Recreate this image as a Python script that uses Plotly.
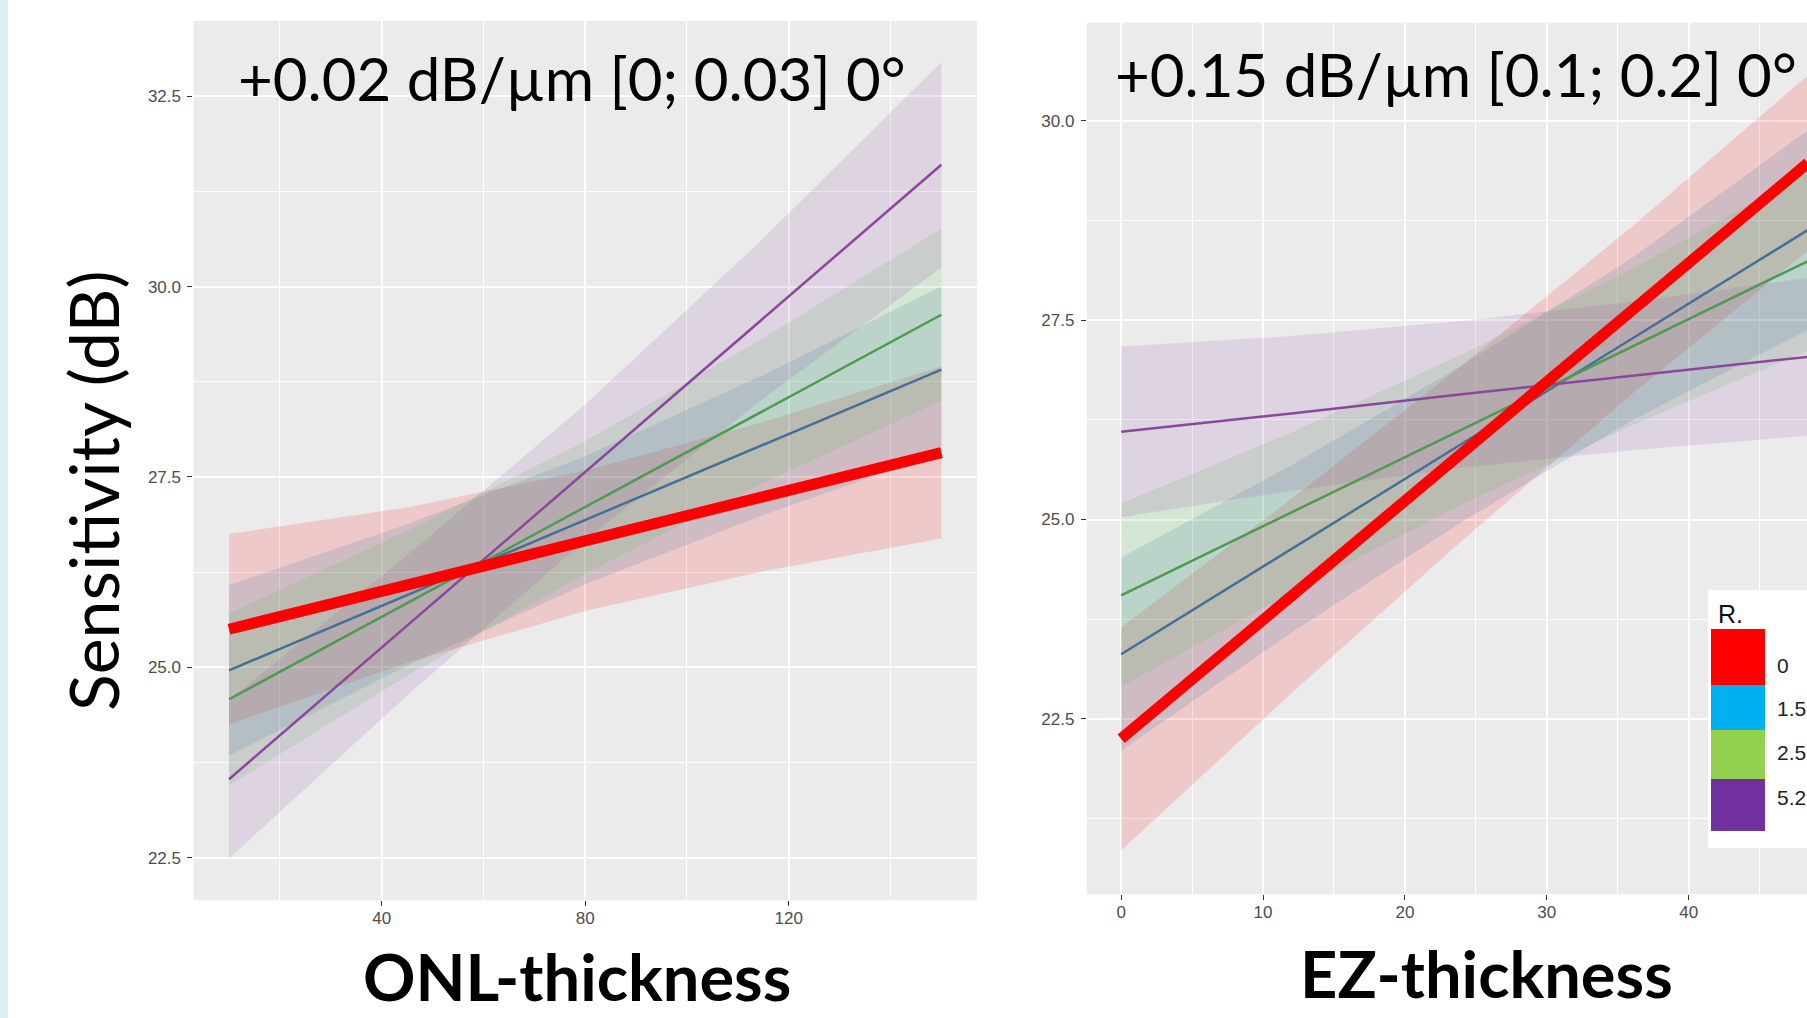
import plotly.graph_objects as go

W, H = 1807, 1018

# ---------------- data ----------------
groups = ["0", "1.5", "2.5", "5.2"]

# ONL-thickness panel
onl_x = [10, 45, 80, 115, 150]
onl_fit_0 = [25.50, 26.08, 26.66, 27.24, 27.82]
onl_lo_0 = [24.25, 25.06, 25.74, 26.26, 26.69]
onl_hi_0 = [26.75, 27.10, 27.58, 28.22, 28.95]
onl_fit_15 = [24.96, 25.95, 26.93, 27.92, 28.91]
onl_lo_15 = [23.84, 25.02, 26.09, 27.00, 27.82]
onl_hi_15 = [26.08, 26.88, 27.77, 28.84, 30.00]
onl_fit_25 = [24.58, 25.84, 27.10, 28.37, 29.63]
onl_lo_25 = [23.45, 24.89, 26.23, 27.42, 28.50]
onl_hi_25 = [25.71, 26.79, 27.97, 29.32, 30.76]
onl_fit_52 = [23.53, 25.55, 27.56, 29.58, 31.60]
onl_lo_52 = [22.49, 24.63, 26.67, 28.53, 30.25]
onl_hi_52 = [24.57, 26.47, 28.45, 30.63, 32.95]

# EZ-thickness panel
ez_x = [0, 12, 24, 36, 48.4]
ez_fit_0 = [22.25, 24.04, 25.83, 27.62, 29.47]
ez_lo_0 = [20.85, 22.82, 24.73, 26.57, 28.37]
ez_hi_0 = [23.65, 25.26, 26.93, 28.67, 30.57]
ez_fit_15 = [23.31, 24.63, 25.95, 27.26, 28.63]
ez_lo_15 = [22.10, 23.58, 24.97, 26.24, 27.38]
ez_hi_15 = [24.52, 25.68, 26.93, 28.28, 29.88]
ez_fit_25 = [24.05, 25.09, 26.13, 27.16, 28.24]
ez_lo_25 = [22.90, 24.09, 25.19, 26.18, 27.12]
ez_hi_25 = [25.20, 26.09, 27.07, 28.14, 29.36]
ez_fit_52 = [26.10, 26.33, 26.57, 26.80, 27.04]
ez_lo_52 = [25.03, 25.36, 25.65, 25.87, 26.05]
ez_hi_52 = [27.17, 27.30, 27.49, 27.73, 28.03]

onl_xticks = [40, 80, 120]
onl_xminor = [20, 60, 100, 140]
onl_yticks = [22.5, 25.0, 27.5, 30.0, 32.5]
onl_yminor = [23.75, 26.25, 28.75, 31.25]
ez_xticks = [0, 10, 20, 30, 40]
ez_xminor = [5, 15, 25, 35, 45]
ez_yticks = [22.5, 25.0, 27.5, 30.0]
ez_yminor = [21.25, 23.75, 26.25, 28.75]

title_left = "+0.02 dB/µm [0; 0.03] 0°"
title_right = "+0.15 dB/µm [0.1; 0.2] 0°"
xlab_left = "ONL-thickness"
xlab_right = "EZ-thickness"
ylab = "Sensitivity (dB)"
legend_title = "R."

# ---------------- styles ----------------
key_colors = ["#FF0000", "#00B0F0", "#92D050", "#7030A0"]
fill_colors = ["rgba(255,0,0,0.14)", "rgba(40,110,170,0.15)",
               "rgba(75,195,75,0.15)", "rgba(150,75,165,0.15)"]
line_colors = ["#FF0000", "#456F98", "#4E9A50", "#8B479C"]
line_widths = [11, 2.5, 2.5, 2.5]

fig = go.Figure()

panels = [
    ("x", "y", onl_x,
     [onl_fit_0, onl_fit_15, onl_fit_25, onl_fit_52],
     [onl_lo_0, onl_lo_15, onl_lo_25, onl_lo_52],
     [onl_hi_0, onl_hi_15, onl_hi_25, onl_hi_52]),
    ("x2", "y2", ez_x,
     [ez_fit_0, ez_fit_15, ez_fit_25, ez_fit_52],
     [ez_lo_0, ez_lo_15, ez_lo_25, ez_lo_52],
     [ez_hi_0, ez_hi_15, ez_hi_25, ez_hi_52]),
]

for xa, ya, xs, fits, los, his in panels:
    for i, g in enumerate(groups):
        fig.add_trace(go.Scatter(
            x=list(xs) + list(xs)[::-1], y=list(his[i]) + list(los[i])[::-1],
            xaxis=xa, yaxis=ya, mode="lines", fill="toself",
            fillcolor=fill_colors[i], line=dict(width=0),
            hoverinfo="skip", showlegend=False))
    for i in [1, 2, 3, 0]:
        fig.add_trace(go.Scatter(
            x=xs, y=fits[i], xaxis=xa, yaxis=ya, mode="lines",
            line=dict(color=line_colors[i], width=line_widths[i]),
            name=groups[i], showlegend=False))

tickfont = dict(family="Liberation Sans, Arial", size=17, color="#4D4D4D")

def ax(rng, domain, ticks, minor, fmt=None, anchor=None, standoff=3):
    d = dict(range=rng, domain=domain, tickmode="array", tickvals=ticks,
             ticks="outside", ticklen=5, tickwidth=1.3, tickcolor="#333333",
             showgrid=True, gridcolor="white", gridwidth=2,
             zeroline=False, showline=False, tickfont=tickfont,
             ticklabelstandoff=standoff,
             minor=dict(tickmode="array", tickvals=minor, showgrid=True,
                        gridcolor="white", gridwidth=1, ticks=""),
             fixedrange=True)
    if fmt:
        d["ticktext"] = [fmt.format(t) for t in ticks]
    if anchor:
        d["anchor"] = anchor
    return d

px = lambda v: v / W
py = lambda v: (H - v) / H

fig.update_layout(
    width=W, height=H, margin=dict(l=0, r=0, t=0, b=0),
    paper_bgcolor="white", plot_bgcolor="#EBEBEB",
    xaxis=ax([3, 157], [px(193.4), px(977)], onl_xticks, onl_xminor, anchor="y", standoff=-3),
    yaxis=ax([21.94, 33.49], [py(900.3), py(20.8)], onl_yticks, onl_yminor, "{:.1f}", anchor="x"),
    xaxis2=ax([-2.42, 48.34], [px(1086.8), 1.0], ez_xticks, ez_xminor, anchor="y2", standoff=-3),
    yaxis2=ax([20.30, 31.23], [py(894.3), py(22.7)], ez_yticks, ez_yminor, "{:.1f}", anchor="x2"),
    showlegend=False,
)

shapes = [
    dict(type="rect", xref="paper", yref="paper", x0=0, x1=px(8), y0=0, y1=1,
         fillcolor="rgb(218,238,244)", line=dict(width=0), layer="below"),
    dict(type="rect", xref="paper", yref="paper", x0=px(1708), x1=1.02,
         y0=py(848), y1=py(590), fillcolor="white", line=dict(width=0), layer="above"),
]
key_y = [(629, 685), (685, 730), (730, 779), (779, 831)]
for i, (a, b) in enumerate(key_y):
    shapes.append(dict(type="rect", xref="paper", yref="paper",
                       x0=px(1711), x1=px(1765), y0=py(b), y1=py(a),
                       fillcolor=key_colors[i], line=dict(width=0), layer="above"))
fig.update_layout(shapes=shapes)

big = dict(family="Lato, Open Sans, sans-serif", size=60, color="black")
lab = dict(family="Lato, Open Sans, sans-serif", size=65, color="black")
ann = [
    dict(text=title_left, x=px(571.5), y=py(78), font=big),
    dict(text=title_right, x=px(1456), y=py(74), font=big),
    dict(text="<b>" + xlab_left + "</b>", x=px(577), y=py(976), font=lab),
    dict(text="<b>" + xlab_right + "</b>", x=px(1486), y=py(973), font=lab),
    dict(text=ylab, x=px(92), y=py(491), textangle=-90,
         font=dict(family="Lato, Open Sans, sans-serif", size=68, color="black")),
    dict(text=legend_title, x=px(1716), y=py(614), xanchor="left",
         font=dict(family="Liberation Sans, Arial", size=25, color="#111111")),
]
lab_y = [665, 708, 752, 797]
for i, g in enumerate(groups):
    ann.append(dict(text=g, x=px(1775), y=py(lab_y[i]), xanchor="left",
                    font=dict(family="Liberation Sans, Arial", size=21, color="#222222")))
for a in ann:
    a.setdefault("xanchor", "center")
    a.update(xref="paper", yref="paper", yanchor="middle", showarrow=False)
fig.update_layout(annotations=ann)

fig.write_html("out.html", config={"displayModeBar": False})
